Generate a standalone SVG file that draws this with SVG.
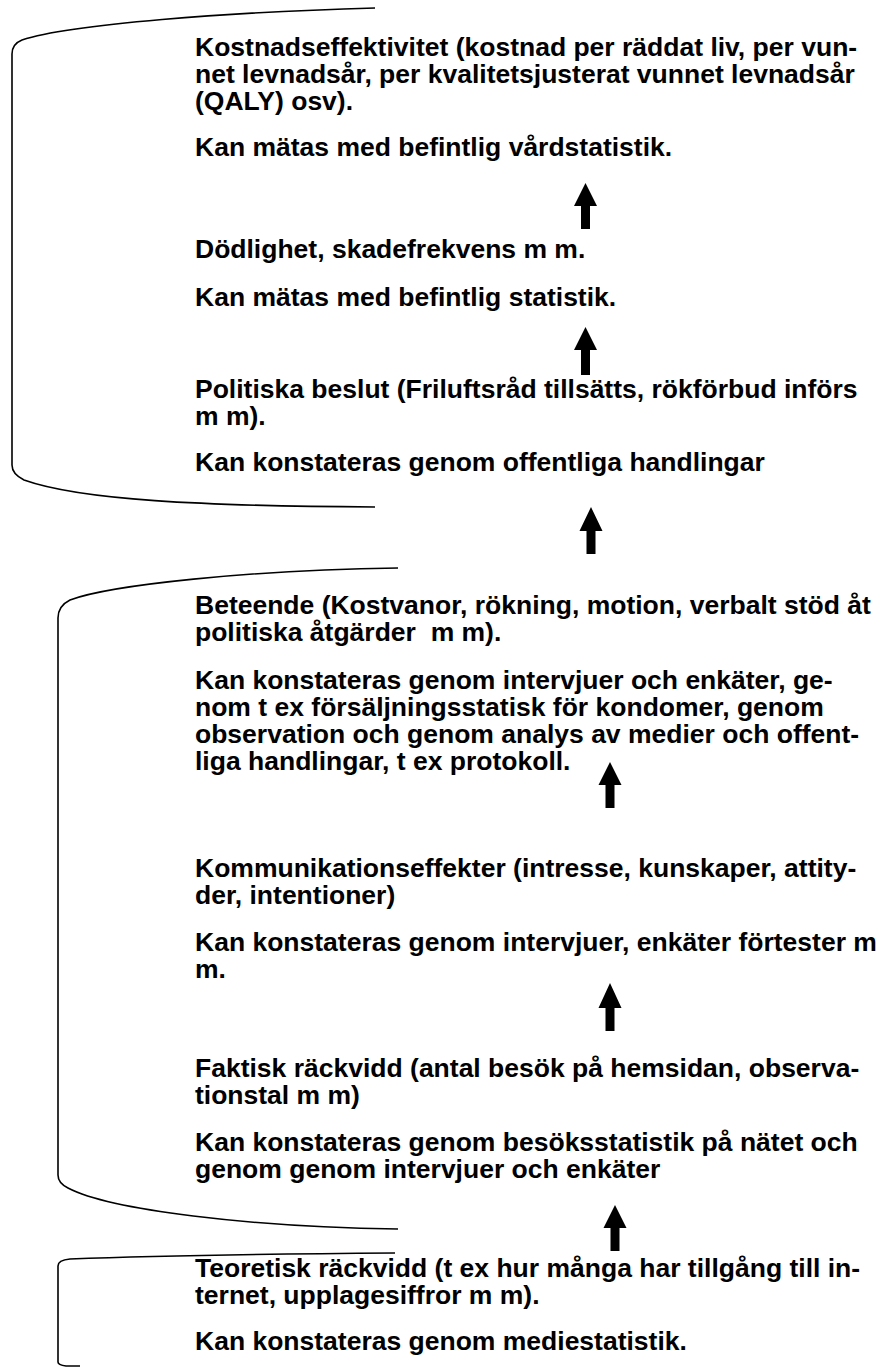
<svg xmlns="http://www.w3.org/2000/svg" width="892" height="1367" viewBox="0 0 892 1367">
<style>
text{font-family:"Liberation Sans",Arial,sans-serif;font-weight:bold;font-size:26.5px;fill:#000;white-space:pre}
.br{fill:none;stroke:#000;stroke-width:1.6}
.ar{fill:#000;stroke:none}
</style>
<rect width="892" height="1367" fill="#fff"/>
<g id="brackets">
<path class="br" d="M375,8 C230,12 70,24 22,40 Q12,44 12,54 V465 Q12,474 24,480 C80,500 200,506 375,507"/>
<path class="br" d="M398,568 C250,570 110,585 70,600 Q58,606 58,618 V1175 Q58,1183 68,1188 C110,1210 250,1227 398,1229"/>
<path class="br" d="M395,1253 C250,1254 120,1257 70,1259 Q58,1260 58,1266 V1362 Q58,1365 66,1366 L80,1366"/>
</g>
<g id="n-kostnad">
<text x="195" y="56">Kostnadseffektivitet (kostnad per räddat liv, per vun-</text>
<text x="195" y="83">net levnadsår, per kvalitetsjusterat vunnet levnadsår</text>
<text x="195" y="110">(QALY) osv).</text>
<text x="195" y="156">Kan mätas med befintlig vårdstatistik.</text>
</g>
<g id="n-dodlighet">
<text x="195" y="258">Dödlighet, skadefrekvens m m.</text>
<text x="195" y="306">Kan mätas med befintlig statistik.</text>
</g>
<g id="n-politiska">
<text x="195" y="398">Politiska beslut (Friluftsråd tillsätts, rökförbud införs</text>
<text x="195" y="425">m m).</text>
<text x="195" y="471">Kan konstateras genom offentliga handlingar</text>
</g>
<g id="n-beteende">
<text x="195" y="614">Beteende (Kostvanor, rökning, motion, verbalt stöd åt</text>
<text x="195" y="641">politiska åtgärder  m m).</text>
<text x="195" y="689">Kan konstateras genom intervjuer och enkäter, ge-</text>
<text x="195" y="716">nom t ex försäljningsstatisk för kondomer, genom</text>
<text x="195" y="743">observation och genom analys av medier och offent-</text>
<text x="195" y="770">liga handlingar, t ex protokoll.</text>
</g>
<g id="n-kommunikation">
<text x="195" y="877">Kommunikationseffekter (intresse, kunskaper, attity-</text>
<text x="195" y="904">der, intentioner)</text>
<text x="195" y="951">Kan konstateras genom intervjuer, enkäter förtester m</text>
<text x="195" y="978">m.</text>
</g>
<g id="n-faktisk">
<text x="195" y="1077">Faktisk räckvidd (antal besök på hemsidan, observa-</text>
<text x="195" y="1104">tionstal m m)</text>
<text x="195" y="1151">Kan konstateras genom besöksstatistik på nätet och</text>
<text x="195" y="1178">genom genom intervjuer och enkäter</text>
</g>
<g id="n-teoretisk">
<text x="195" y="1277">Teoretisk räckvidd (t ex hur många har tillgång till in-</text>
<text x="195" y="1304">ternet, upplagesiffror m m).</text>
<text x="195" y="1350">Kan konstateras genom mediestatistik.</text>
</g>
<g id="connectors">
<path class="ar" d="M585.5,183 L597,206 L590,206 L590,229 L581,229 L581,206 L574,206 Z"/>
<path class="ar" d="M585.5,327 L597,350 L590,350 L590,375 L581,375 L581,350 L574,350 Z"/>
<path class="ar" d="M591,507 L602.5,531 L595.5,531 L595.5,554 L586.5,554 L586.5,531 L579.5,531 Z"/>
<path class="ar" d="M610,762 L621.5,785 L614.5,785 L614.5,808 L605.5,808 L605.5,785 L598.5,785 Z"/>
<path class="ar" d="M610,983 L621.5,1008 L614.5,1008 L614.5,1031 L605.5,1031 L605.5,1008 L598.5,1008 Z"/>
<path class="ar" d="M615,1205 L626.5,1228 L619.5,1228 L619.5,1251 L610.5,1251 L610.5,1228 L603.5,1228 Z"/>
</g>
</svg>
